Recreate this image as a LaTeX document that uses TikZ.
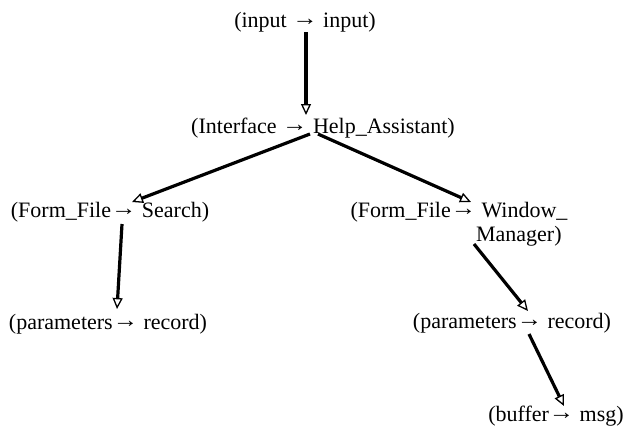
\documentclass[tikz,border=0pt]{standalone}
\usepackage{fontspec}
\setmainfont{Liberation Serif}
\usetikzlibrary{arrows.meta}
% the mapping arrow inside a term
\newcommand{\maps}{\raisebox{0.1em}{\scalebox{1.15}[1]{→}}}
\begin{document}
\begin{tikzpicture}[x=1pt,y=-1pt,
  term/.style={inner sep=0pt, font=\fontsize{22}{24}\selectfont},
  conn/.style={line width=3.2pt, draw=black,
    -{Triangle[open, length=11pt, width=10pt, line width=1.3pt]}}]
  \fill[white] (0,0) rectangle (632,432);
  \useasboundingbox (0,0) rectangle (632,432);

  % terms of the derivation tree
  \node[term] (in)    at (305,22)  {(input \maps{} input)};
  \node[term] (iface) at (323,128) {(Interface \maps{} Help\_Assistant)};
  \node[term] (ffs)   at (110,212) {(Form\_File\maps{} Search)};
  \node[term, align=left] (ffw) at (459,224)
    {(Form\_File\maps{} Window\_\\\phantom{(Form\_File\maps}Manager)};
  \node[term] (parl)  at (108,324) {(parameters\maps{} record)};
  \node[term] (parr)  at (512,323) {(parameters\maps{} record)};
  \node[term] (buf)   at (556,416) {(buffer\maps{} msg)};

  % derivation steps
  \draw[conn] ([shift={(1,10)}]in.center)     -- ([shift={(-17,-13)}]iface.center);
  \draw[conn] ([shift={(-13,6)}]iface.center) -- ([shift={(22,-10)}]ffs.center);
  \draw[conn] ([shift={(-5,6)}]iface.center)  -- ([shift={(12,-22)}]ffw.center);
  \draw[conn] ([shift={(12,12)}]ffs.center)   -- ([shift={(9,-15)}]parl.center);
  \draw[conn] ([shift={(15,20)}]ffw.center)   -- ([shift={(16,-12)}]parr.center);
  \draw[conn] ([shift={(17,11)}]parr.center)  -- ([shift={(8,-10)}]buf.center);
\end{tikzpicture}
\end{document}
